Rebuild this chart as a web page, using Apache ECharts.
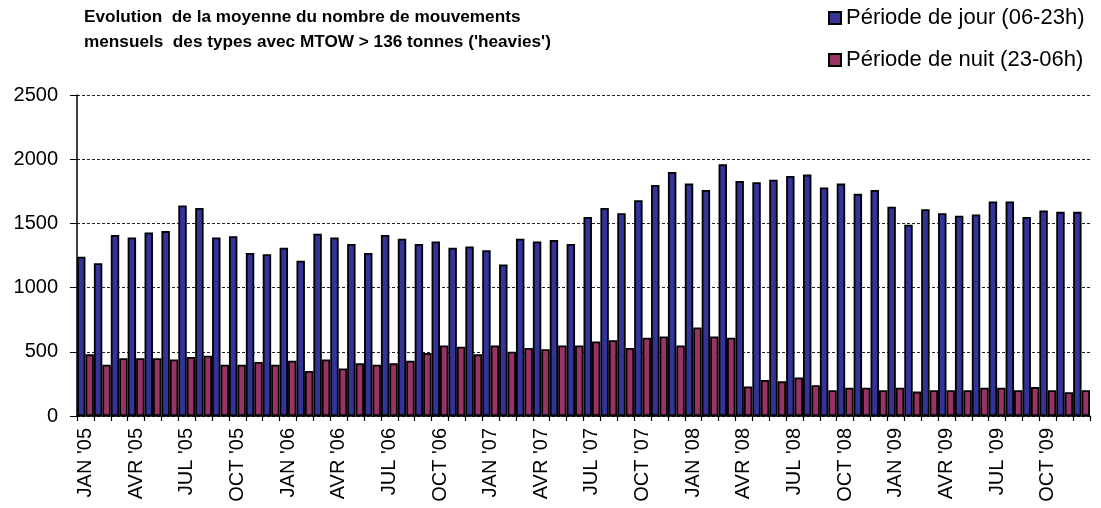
<!DOCTYPE html>
<html>
<head>
<meta charset="utf-8">
<script src="https://cdn.jsdelivr.net/npm/echarts@6/dist/echarts.min.js"></script>
<style>
html,body{margin:0;padding:0;background:#fff;}
#chart{width:1101px;height:508px;}
</style>
</head>
<body>
<div id="chart"></div>
<script>
const months = ["JAN","FEV","MAR","AVR","MAI","JUIN","JUL","AOU","SEP","OCT","NOV","DEC"];
const years = ["05","06","07","08","09"];
const categories = [];
years.forEach(y => months.forEach(m => categories.push(m + " '" + y)));

const dayValues = [
  1240,1190,1410,1390,1430,1440,1640,1620,1390,1400,1270,1260,
  1310,1210,1420,1390,1340,1270,1410,1380,1340,1360,1310,1320,
  1290,1180,1380,1360,1370,1340,1550,1620,1580,1680,1800,1900,
  1810,1760,1960,1830,1820,1840,1870,1880,1780,1810,1730,1760,
  1630,1490,1610,1580,1560,1570,1670,1670,1550,1600,1590,1590
];
const nightValues = [
  480,400,450,450,450,440,460,470,400,400,420,400,
  430,350,440,370,410,400,410,430,490,550,540,480,
  550,500,530,520,550,550,580,590,530,610,620,550,
  690,620,610,230,280,270,300,240,200,220,220,200,
  220,190,200,200,200,220,220,200,225,200,185,200
];
const yTicks = [0,500,1000,1500,2000,2500];

const FONT = "'Liberation Sans', Arial, sans-serif";
const chart = echarts.init(document.getElementById('chart'));
chart.setOption({
  animation: false,
  backgroundColor: '#ffffff',
  title: {
    text: "Evolution  de la moyenne du nombre de mouvements\nmensuels  des types avec MTOW > 136 tonnes ('heavies')",
    left: 84, top: 5, padding: 0,
    textStyle: {fontFamily: FONT, fontSize: 17.2, fontWeight: 'bold', color: '#000', lineHeight: 25}
  },
  legend: {
    orient: 'vertical', left: 828, top: 7, padding: 0,
    itemWidth: 12, itemHeight: 12, itemGap: 20,
    icon: 'rect',
    textStyle: {fontFamily: FONT, fontSize: 22, color: '#000', lineHeight: 22},
    data: ['Période de jour (06-23h)', 'Période de nuit (23-06h)']
  },
  grid: {left: 77, right: 11, top: 95, bottom: 92, containLabel: false},
  xAxis: {
    type: 'category',
    data: categories,
    axisLine: {lineStyle: {color: '#000', width: 1.5}},
    axisTick: {show: true, interval: 0, length: 5, lineStyle: {color: '#000', width: 1.2}},
    axisLabel: {interval: 2, rotate: 90, margin: 12, fontFamily: FONT, fontSize: 20, color: '#000'}
  },
  yAxis: {
    type: 'value',
    min: yTicks[0], max: yTicks[yTicks.length - 1], interval: 500,
    axisLine: {show: true, lineStyle: {color: '#000', width: 1.5}},
    axisTick: {show: true, length: 7, lineStyle: {color: '#000', width: 1}},
    axisLabel: {margin: 19, fontFamily: FONT, fontSize: 20, color: '#000', formatter: v => String(v)},
    splitLine: {show: true, lineStyle: {color: '#222', width: 1.2, type: [3, 2]}}
  },
  series: [
    {
      name: 'Période de jour (06-23h)', type: 'bar', data: dayValues,
      barGap: '0%', barCategoryGap: '0%',
      itemStyle: {color: '#333399', borderColor: '#000', borderWidth: 1.8}
    },
    {
      name: 'Période de nuit (23-06h)', type: 'bar', data: nightValues,
      barGap: '0%', barCategoryGap: '0%',
      itemStyle: {color: '#993366', borderColor: '#000', borderWidth: 1.8}
    }
  ]
});
</script>
</body>
</html>
